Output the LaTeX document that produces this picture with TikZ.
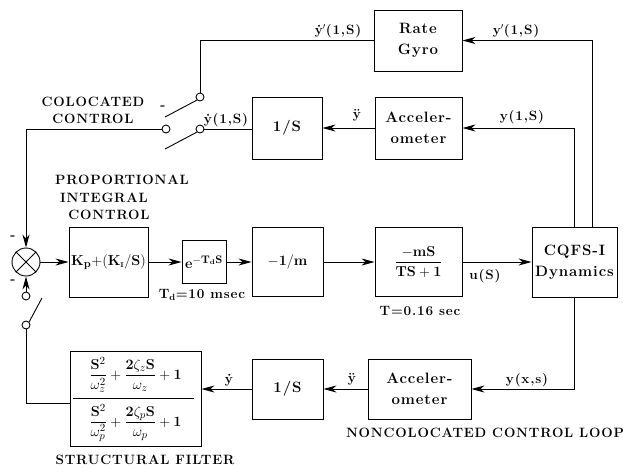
\documentclass[tikz,border=0pt]{standalone}
\usepackage{amsmath}
\usepackage[no-math]{fontspec}
\usetikzlibrary{arrows.meta}
\newfontfamily\spc{Latin Modern Roman}[LetterSpace=6]
\tikzset{
  wire/.style={line width=0.9pt},
  blk/.style={draw, line width=0.9pt, inner sep=0pt, align=center, font=\spc\bfseries\fontsize{15}{21}\selectfont},
  lbl/.style={inner sep=0pt, font=\spc\bfseries\fontsize{13.5}{15}\selectfont},
  fmath/.style={inner sep=0pt, font=\fontsize{15.5}{17}\selectfont},
  arr/.style={wire, -{Stealth[length=13pt,width=7pt,inset=4pt]}},
  cont/.style={circle, draw, line width=0.9pt, minimum size=8pt, inner sep=0pt},
}
\begin{document}
\begin{tikzpicture}[x=1pt,y=-1pt]
\useasboundingbox (0,0) rectangle (623,467);
% top row
\node[blk, minimum width=88pt, minimum height=61pt] (gyro) at (418,40.5) {Rate\\Gyro};
\node[blk, minimum width=87pt, minimum height=62pt] (acc1) at (418.5,128) {Acceler-\\ometer};
\node[blk, minimum width=70pt, minimum height=62pt] (int1) at (287,128) {1/S};
% main row
\node[circle, draw, line width=0.9pt, minimum size=28pt, inner sep=0pt] (sum) at (26,262) {};
\draw[wire] (sum.north west) -- (sum.south east) (sum.north east) -- (sum.south west);
\node[blk, minimum width=79pt, minimum height=70pt] (kb) at (108.5,262) {$\mathbf{K_p{+}(K_{\scriptscriptstyle I}/S)}$};
\node[blk, minimum width=44pt, minimum height=43pt] (eb) at (204,262) {$\mathbf{e^{-T_dS}}$};
\node[blk, minimum width=71pt, minimum height=69pt] (mb) at (287.5,262) {$\mathbf{-1/m}$};
\node[blk, minimum width=87pt, minimum height=69pt] (tb) at (418.5,262) {$\dfrac{\mathbf{-mS}}{\mathbf{TS+1}}$};
\node[blk, minimum width=85pt, minimum height=70pt] (cq) at (574.5,262) {CQFS-I\\Dynamics};
% bottom row
\node[blk, minimum width=103pt, minimum height=60pt] (acc2) at (419.5,389) {Acceler-\\ometer};
\node[blk, minimum width=71pt, minimum height=60pt] (int2) at (287.5,389) {1/S};
\node[blk, minimum width=131pt, minimum height=95pt] (filt) at (135.5,398.5) {};
\node[fmath] (fnum) at (135.5,375) {$\dfrac{\mathbf{S}^2}{\omega_z^2}+\dfrac{\mathbf{2}\zeta_z\mathbf{S}}{\omega_z}+\mathbf{1}$};
\node[fmath] (fden) at (135.5,423) {$\dfrac{\mathbf{S}^2}{\omega_p^2}+\dfrac{\mathbf{2}\zeta_p\mathbf{S}}{\omega_p}+\mathbf{1}$};
\draw[wire] ([xshift=3pt]filt.west) -- ([xshift=-7pt]filt.east);
% forward arrows
\draw[arr] (sum) -- (kb);
\draw[arr] (kb) -- (eb);
\draw[arr] (eb) -- (mb);
\draw[arr] (mb) -- (tb);
\draw[arr] (tb) -- (cq);
% feedback from plant
\draw[arr] (cq.north) |- (acc1.east);
\draw[arr] ([xshift=17.5pt]cq.north) |- (gyro.east);
\draw[arr] (cq.south) |- (acc2.east);
\draw[arr] (acc1) -- (int1);
\draw[arr] (acc2) -- (int2);
\draw[arr] (int2.west) -- (int2.west -| filt.east);
% colocated switch
\node[cont] (c1) at (200,97) {};
\node[cont] (c2) at (200,129) {};
\node[cont] (c3) at (166,129) {};
\coordinate (a1) at (165,117);
\coordinate (a2) at (165,149);
\coordinate (k1) at (26,129);
\draw[wire] (gyro.west) -| (c1.north);
\draw[wire] (int1.west |- c2) -- (c2.east);
\draw[wire] (c1.south west) -- (a1);
\draw[wire] (c2.south west) -- (a2);
\draw[arr] (c3.west) -- (k1) -- (sum.north);
% noncolocated switch
\node[cont] (c4) at (26,296) {};
\node[cont] (c5) at (26,325) {};
\coordinate (a3) at (42,298);
\coordinate (k2) at (26,403);
\draw[arr] (c4.north) -- (sum.south);
\draw[wire] (c5.north east) -- (a3);
\draw[wire] (filt.west |- k2) -- (k2) -- (c5.south);
% labels
\node[lbl] (l1) at (338,31) {\.y$'$(1,S)};
\node[lbl] (l2) at (516,31) {y$'$(1,S)};
\node[lbl] (l3) at (522,117) {y(1,S)};
\node[lbl] (l4) at (357,115) {\"y};
\node[lbl] (l5) at (226,120) {\.y(1,S)};
\node[lbl] (l6) at (163,108) {-};
\node[lbl] (l7) at (93,102) {COLOCATED};
\node[lbl] (l8) at (93,119) {CONTROL};
\node[lbl] (l9) at (122,180) {PROPORTIONAL};
\node[lbl] (l10) at (104,198) {INTEGRAL};
\node[lbl] (l11) at (109,215) {CONTROL};
\node[lbl] (l12) at (13,238) {-};
\node[lbl] (l13) at (13,282) {-};
\node[lbl] (l14) at (202,295) {T$_{\mathbf d}$=10 msec};
\node[lbl] (l15) at (420,311) {T=0.16 sec};
\node[lbl] (l16) at (485,276) {u(S)};
\node[lbl] (l17) at (527,380) {y(x,s)};
\node[lbl] (l18) at (352,379) {\"y};
\node[lbl] (l19) at (229,380) {\.y};
\node[lbl] (l20) at (145,460) {STRUCTURAL FILTER};
\node[lbl] (l21) at (485,433) {NONCOLOCATED CONTROL LOOP};
\end{tikzpicture}
\end{document}
